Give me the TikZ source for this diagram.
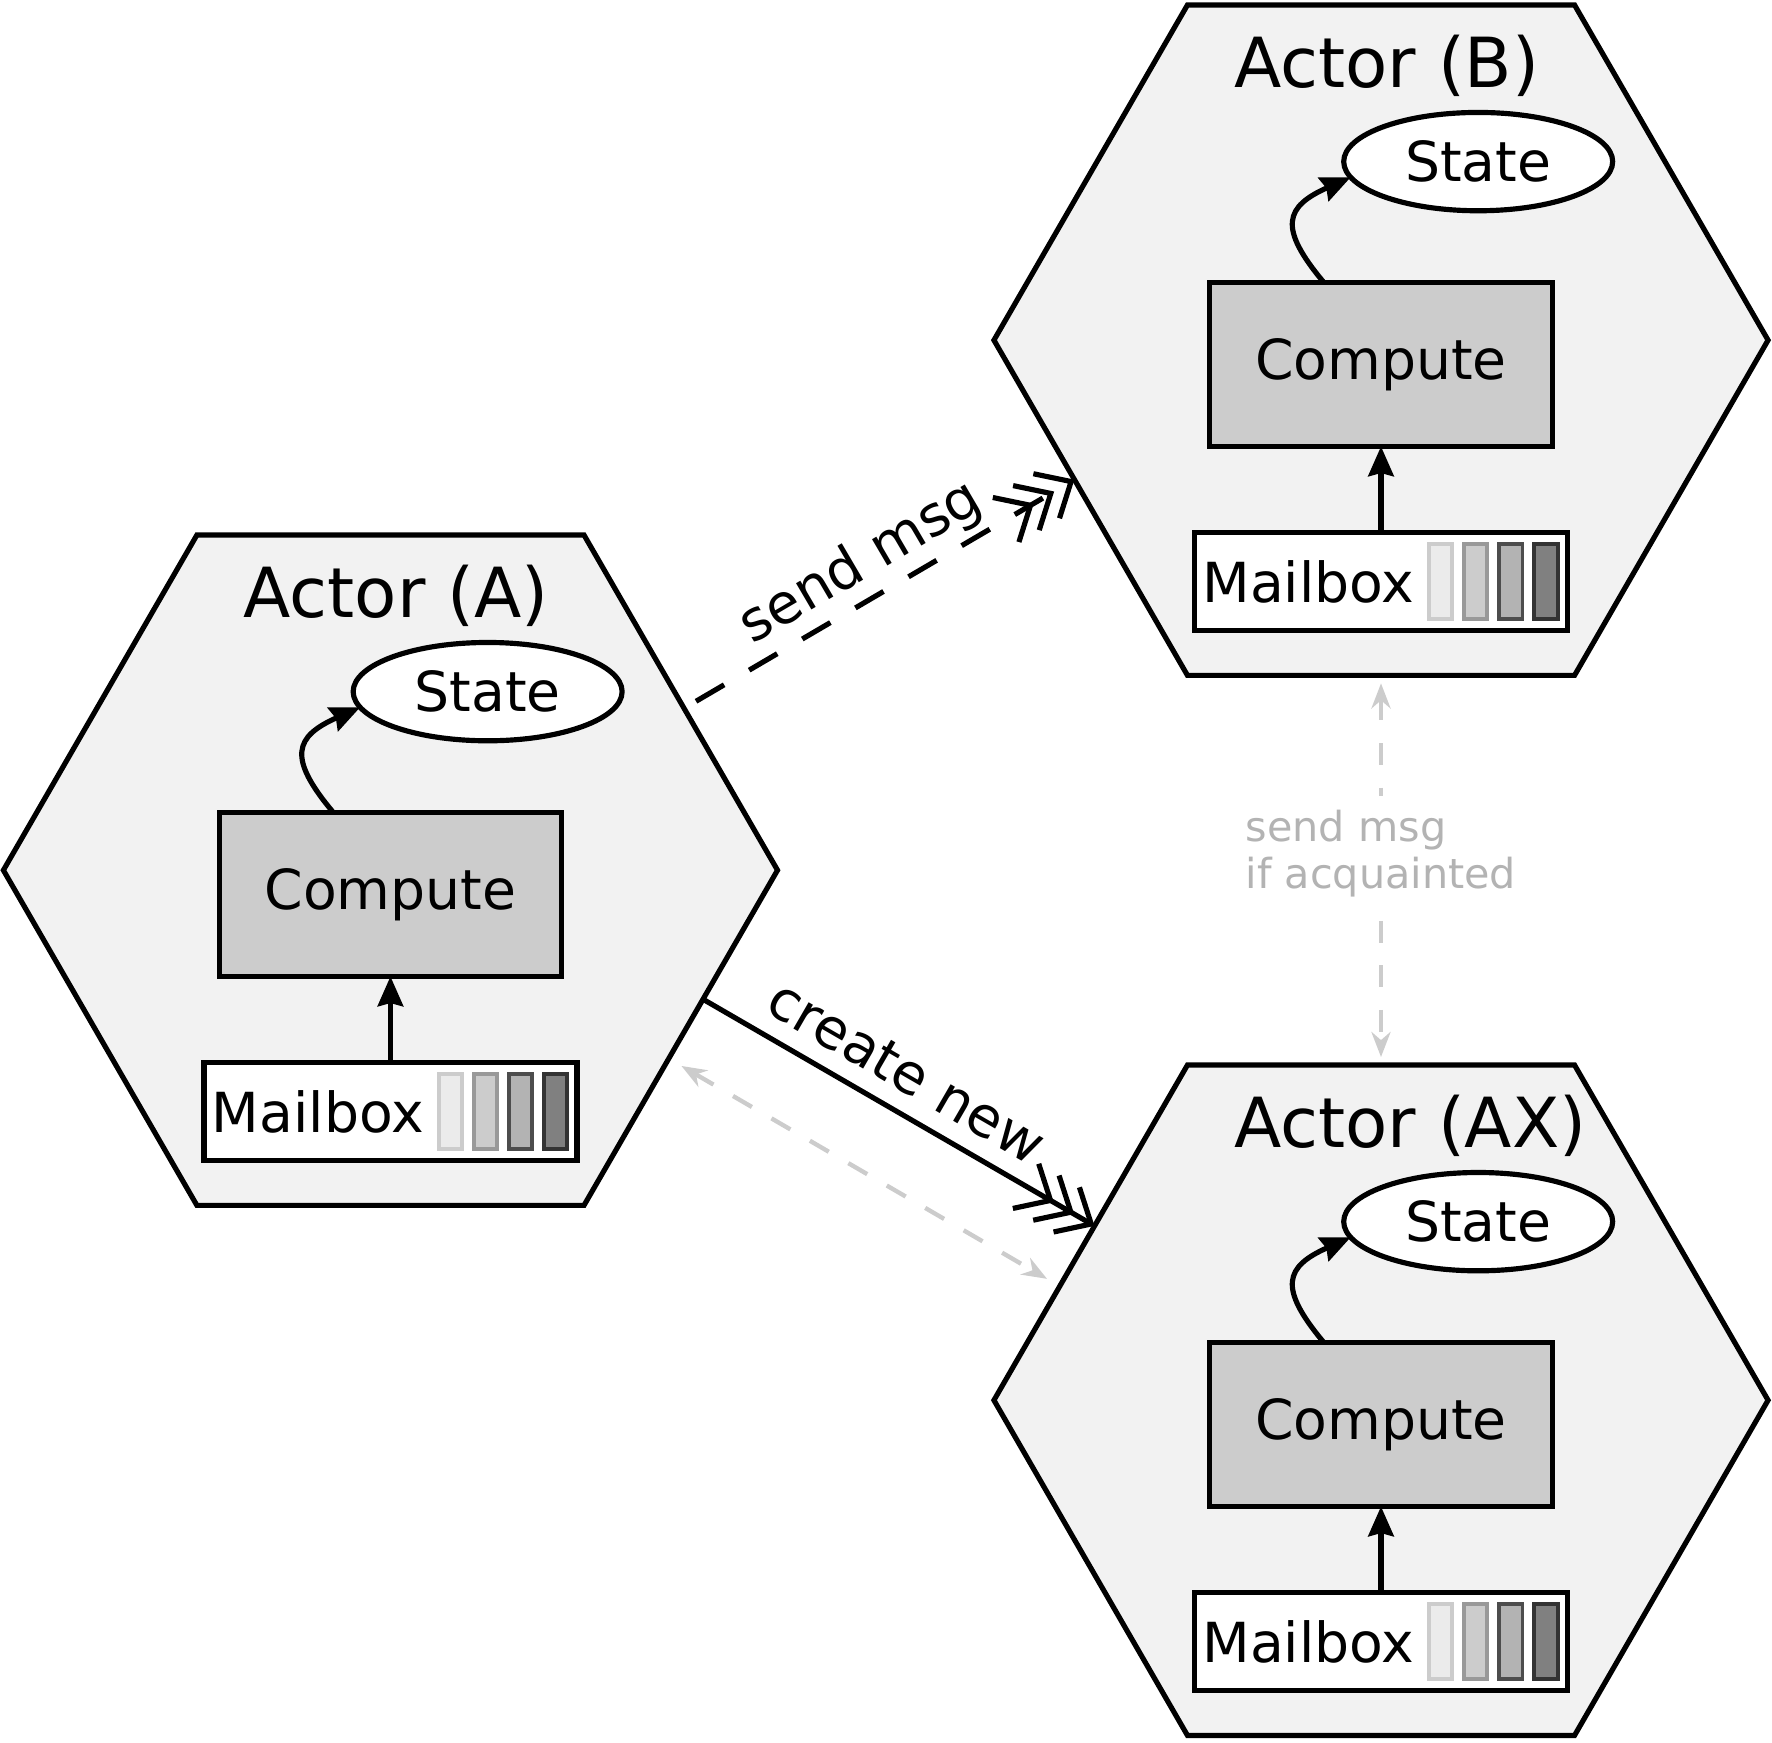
\documentclass[tikz,border=0pt]{standalone}
\usepackage{fontspec}
\setmainfont{DejaVu Sans}
\usetikzlibrary{positioning,calc,shapes.geometric,arrows.meta}
\definecolor{hexfill}{HTML}{F2F2F2}
\definecolor{computefill}{HTML}{CCCCCC}
\definecolor{hintline}{HTML}{CCCCCC}
\definecolor{hinttext}{HTML}{B3B3B3}
\tikzset{
% Parts of one actor: hexagon, title, state, compute and mailbox
actor/.style={regular polygon,regular polygon sides=6,minimum size=6.85cm,inner sep=0,outer sep=0,draw,line width=1.3pt,fill=hexfill},
actor title/.style={anchor=base west,inner sep=0,font=\fontsize{17.4}{20}\selectfont},
state/.style={ellipse,draw,line width=1.3pt,fill=white,minimum width=2.38cm,minimum height=0.87cm,inner sep=0,outer sep=0},
compute/.style={rectangle,draw,line width=1.3pt,fill=computefill,minimum width=3.03cm,minimum height=1.45cm,outer sep=0},
mailbox/.style={rectangle,draw,line width=1.3pt,fill=white,minimum height=0.87cm,text width=3.16cm,inner xsep=0.07cm,inner ysep=0,align=left,outer sep=0},
% Queued messages in the mailbox, light to dark
slot/.style={rectangle,line width=1pt,minimum width=0.205cm,minimum height=0.665cm,inner sep=0,outer sep=0},
slot1/.style={slot,fill={rgb,255:red,235;green,235;blue,235},draw={rgb,255:red,204;green,204;blue,204}},
slot2/.style={slot,fill={rgb,255:red,204;green,204;blue,204},draw={rgb,255:red,153;green,153;blue,153}},
slot3/.style={slot,fill={rgb,255:red,179;green,179;blue,179},draw={rgb,255:red,77;green,77;blue,77}},
slot4/.style={slot,fill={rgb,255:red,128;green,128;blue,128},draw={rgb,255:red,51;green,51;blue,51}},
% Connectors
flow/.style={line width=1.3pt,-{Stealth[length=7.5pt,width=6.4pt,inset=0.8pt]}},
triple/.style={line width=1.3pt,-{Straight Barb[sharp,length=7.2pt,width=13pt,sep=-2.9pt]Straight Barb[sharp,length=7.2pt,width=13pt,sep=-2.9pt]Straight Barb[sharp,length=7.2pt,width=13pt]}},
hint/.style={line width=1.1pt,hintline,dash pattern=on 5.5pt off 5.7pt,{Stealth[length=6.3pt,width=4.8pt]}-{Stealth[length=6.3pt,width=4.8pt]}}
}
\begin{document}
\begin{tikzpicture}[font=\fontsize{13.9}{16}\selectfont]
\useasboundingbox (0,0) rectangle (15.68,-15.415);
% Actor (A)
\node[actor] (hexA) at (3.455,-7.70) {};
\node[actor title] (titleA) at ([xshift=-1.306cm,yshift=2.237cm]hexA.center) {Actor (A)};
\node[compute] (compA) at ([yshift=-0.215cm]hexA.center) {Compute};
\node[state] (stateA) at ([xshift=0.86cm,yshift=1.58cm]hexA.center) {State};
\node[mailbox,below=0.76cm of compA] (mailA) {Mailbox};
\node[slot4,left=0.088cm of mailA.east] (qA4) {};
\node[slot3,left=0.105cm of qA4] (qA3) {};
\node[slot2,left=0.105cm of qA3] (qA2) {};
\node[slot1,left=0.105cm of qA2] (qA1) {};
\draw[flow] (mailA) -- (compA);
\draw[flow] ([xshift=-0.505cm]compA.north) to[out=130,in=204,looseness=1.7] (stateA.187);
% Actor (B)
\node[actor] (hexB) at (12.22,-3.01) {};
\node[actor title] (titleB) at ([xshift=-1.306cm,yshift=2.237cm]hexB.center) {Actor (B)};
\node[compute] (compB) at ([yshift=-0.215cm]hexB.center) {Compute};
\node[state] (stateB) at ([xshift=0.86cm,yshift=1.58cm]hexB.center) {State};
\node[mailbox,below=0.76cm of compB] (mailB) {Mailbox};
\node[slot4,left=0.088cm of mailB.east] (qB4) {};
\node[slot3,left=0.105cm of qB4] (qB3) {};
\node[slot2,left=0.105cm of qB3] (qB2) {};
\node[slot1,left=0.105cm of qB2] (qB1) {};
\draw[flow] (mailB) -- (compB);
\draw[flow] ([xshift=-0.505cm]compB.north) to[out=130,in=204,looseness=1.7] (stateB.187);
% Actor (AX)
\node[actor] (hexAX) at (12.22,-12.39) {};
\node[actor title] (titleAX) at ([xshift=-1.306cm,yshift=2.237cm]hexAX.center) {Actor (AX)};
\node[compute] (compAX) at ([yshift=-0.215cm]hexAX.center) {Compute};
\node[state] (stateAX) at ([xshift=0.86cm,yshift=1.58cm]hexAX.center) {State};
\node[mailbox,below=0.76cm of compAX] (mailAX) {Mailbox};
\node[slot4,left=0.088cm of mailAX.east] (qAX4) {};
\node[slot3,left=0.105cm of qAX4] (qAX3) {};
\node[slot2,left=0.105cm of qAX3] (qAX2) {};
\node[slot1,left=0.105cm of qAX2] (qAX1) {};
\draw[flow] (mailAX) -- (compAX);
\draw[flow] ([xshift=-0.505cm]compAX.north) to[out=130,in=204,looseness=1.7] (stateAX.187);
% Between actors
\draw[triple,dash pattern=on 8.2pt off 7.3pt,shorten <=3.5pt] ($(hexA.0)!0.483!(hexA.60)$) -- node[sloped,above,inner sep=1.5pt,font=\fontsize{14}{17}\selectfont]{send msg} ($(hexB.180)!0.416!(hexB.240)$);
\draw[triple] ($(hexA.300)!0.615!(hexA.0)$) -- node[sloped,above,pos=0.47,inner sep=4.2pt,font=\fontsize{14}{17}\selectfont]{create new} ($(hexAX.120)!0.48!(hexAX.180)$);
\draw[hint,shorten <=3.7pt,shorten >=3.7pt] ($(hexA.0)!0.562!(hexA.300)$) -- ($(hexAX.120)!0.66!(hexAX.180)$);
\draw[hint,shorten <=2pt,shorten >=2pt] (hexB.south) -- node[pos=0.457,fill=white,align=left,text=hinttext,font=\fontsize{10.4}{12}\selectfont]{send msg\\if acquainted} (hexAX.north);
\end{tikzpicture}
\end{document}
